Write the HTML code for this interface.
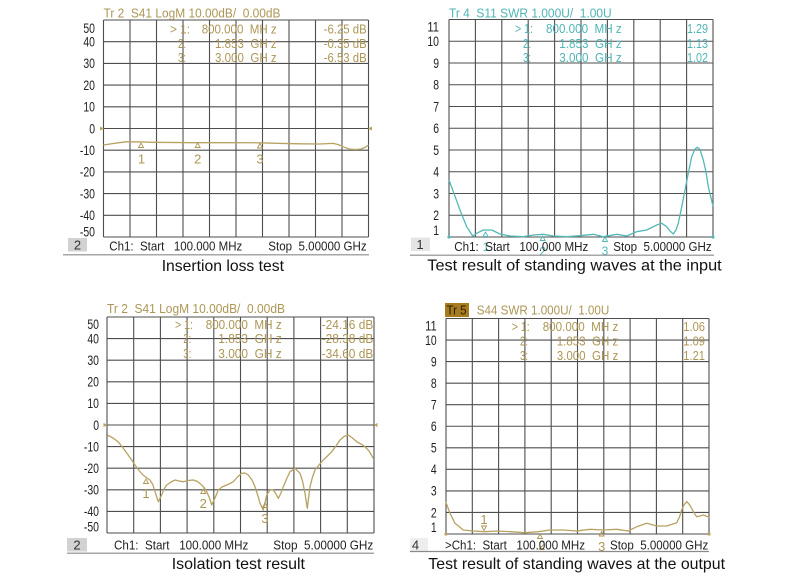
<!DOCTYPE html>
<html>
<head>
<meta charset="utf-8">
<style>
html,body{margin:0;padding:0;background:#fff;}
svg{display:block;}
text{font-family:"Liberation Sans",Arial,sans-serif;white-space:pre;}
</style>
</head>
<body>
<svg width="790" height="579" viewBox="0 0 790 579" xmlns="http://www.w3.org/2000/svg" xml:space="preserve">
<rect width="790" height="579" fill="#fff"/>

<!-- ================= PLOT A (top-left) ================= -->
<g stroke="#4e4e4e" stroke-width="1.1" fill="none">
<path d="M103.5 20V237M130 20V237M156.5 20V237M183 20V237M209.5 20V237M236 20V237M262.5 20V237M289 20V237M315.5 20V237M342 20V237M368.5 20V237"/>
<path d="M103.5 20H368.5M103.5 41.7H368.5M103.5 63.4H368.5M103.5 85.1H368.5M103.5 106.8H368.5M103.5 128.5H368.5M103.5 150.2H368.5M103.5 171.9H368.5M103.5 193.6H368.5M103.5 215.3H368.5M103.5 237H368.5"/>
</g>
<g fill="#222" font-size="13.5" text-anchor="end">
<text x="95" y="33" textLength="11.6" lengthAdjust="spacingAndGlyphs">50</text>
<text x="95" y="46.5" textLength="11.6" lengthAdjust="spacingAndGlyphs">40</text>
<text x="95" y="68.2" textLength="11.6" lengthAdjust="spacingAndGlyphs">30</text>
<text x="95" y="89.9" textLength="11.6" lengthAdjust="spacingAndGlyphs">20</text>
<text x="95" y="111.6" textLength="11.6" lengthAdjust="spacingAndGlyphs">10</text>
<text x="95" y="133.3" textLength="5.8" lengthAdjust="spacingAndGlyphs">0</text>
<text x="95" y="155" textLength="15.1" lengthAdjust="spacingAndGlyphs">-10</text>
<text x="95" y="176.7" textLength="15.1" lengthAdjust="spacingAndGlyphs">-20</text>
<text x="95" y="198.4" textLength="15.1" lengthAdjust="spacingAndGlyphs">-30</text>
<text x="95" y="220.1" textLength="15.1" lengthAdjust="spacingAndGlyphs">-40</text>
<text x="95" y="236.5" textLength="15.1" lengthAdjust="spacingAndGlyphs">-50</text>
</g>
<g fill="#ad9655" font-size="13">
<text x="103.5" y="17.5" textLength="177" lengthAdjust="spacingAndGlyphs">Tr 2  S41 LogM 10.00dB/  0.00dB</text>
<text x="170" y="33.5" textLength="20" lengthAdjust="spacingAndGlyphs">&gt; 1:</text>
<text x="201.7" y="33.5" textLength="75" lengthAdjust="spacingAndGlyphs">800.000  MH z</text>
<text x="366.7" y="33.5" text-anchor="end" textLength="43" lengthAdjust="spacingAndGlyphs">-6.25 dB</text>
<text x="178" y="47.8" textLength="8" lengthAdjust="spacingAndGlyphs">2:</text>
<text x="215" y="47.8" textLength="61.7" lengthAdjust="spacingAndGlyphs">1.853  GH z</text>
<text x="366.7" y="47.8" text-anchor="end" textLength="43" lengthAdjust="spacingAndGlyphs">-0.35 dB</text>
<text x="178" y="62" textLength="8" lengthAdjust="spacingAndGlyphs">3:</text>
<text x="215" y="62" textLength="61.7" lengthAdjust="spacingAndGlyphs">3.000  GH z</text>
<text x="366.7" y="62" text-anchor="end" textLength="43" lengthAdjust="spacingAndGlyphs">-6.53 dB</text>
</g>
<path d="M100 126.5L104 128.5L100 130.5Z M372 126.5L368 128.5L372 130.5Z" fill="#b8a262"/>
<polyline fill="none" stroke="#b8a262" stroke-width="1.3" stroke-linejoin="round" points="103.5,145 110,144 118,142.8 126.7,141.8 136.7,141.8 153,142.3 193,142.7 230,142.7 260,142.8 277,143.3 300,143.8 320,144 333,143.4 338,144.5 343,146.7 350,149.2 356,149.5 361,149 365,147.5 368.5,145"/>
<g fill="none" stroke="#ad9655" stroke-width="0.9">
<path d="M141 143L138.5 147.5H143.5Z M197.7 143L195.2 147.5H200.2Z M260 143.5L257.5 148H262.5Z"/>
</g>
<g fill="#ad9655" font-size="13" text-anchor="middle">
<text x="141.5" y="163.5">1</text>
<text x="197.7" y="163.5">2</text>
<text x="260" y="163.5">3</text>
</g>
<rect x="68" y="238" width="19" height="13.5" fill="#d2d2d2"/>
<text x="77.5" y="249.5" font-size="13" fill="#333" text-anchor="middle">2</text>
<g fill="#222" font-size="13">
<text x="109.3" y="250.5" textLength="133" lengthAdjust="spacingAndGlyphs">Ch1:  Start   100.000 MHz</text>
<text x="268.3" y="250.5" textLength="98.4" lengthAdjust="spacingAndGlyphs">Stop  5.00000 GHz</text>
</g>
<line x1="63" y1="254.8" x2="369" y2="254.8" stroke="#8a8a8a" stroke-width="1.2"/>
<text x="161.7" y="271" font-size="16" fill="#111" textLength="122.3" lengthAdjust="spacingAndGlyphs">Insertion loss test</text>

<!-- ================= PLOT B (top-right) ================= -->
<g stroke="#4e4e4e" stroke-width="1.1" fill="none">
<path d="M449 19.5V237M475.4 19.5V237M501.8 19.5V237M528.2 19.5V237M554.6 19.5V237M581 19.5V237M607.4 19.5V237M633.8 19.5V237M660.2 19.5V237M686.6 19.5V237M713 19.5V237"/>
<path d="M449 19.5H713M449 41.25H713M449 63H713M449 84.75H713M449 106.5H713M449 128.25H713M449 150H713M449 171.75H713M449 193.5H713M449 215.25H713M449 237H713"/>
</g>
<g fill="#222" font-size="13.5" text-anchor="end">
<text x="439" y="31.5" textLength="11.6" lengthAdjust="spacingAndGlyphs">11</text>
<text x="439" y="46" textLength="11.6" lengthAdjust="spacingAndGlyphs">10</text>
<text x="439" y="67.8" textLength="5.8" lengthAdjust="spacingAndGlyphs">9</text>
<text x="439" y="89.5" textLength="5.8" lengthAdjust="spacingAndGlyphs">8</text>
<text x="439" y="111.3" textLength="5.8" lengthAdjust="spacingAndGlyphs">7</text>
<text x="439" y="133" textLength="5.8" lengthAdjust="spacingAndGlyphs">6</text>
<text x="439" y="154.8" textLength="5.8" lengthAdjust="spacingAndGlyphs">5</text>
<text x="439" y="176.5" textLength="5.8" lengthAdjust="spacingAndGlyphs">4</text>
<text x="439" y="198.3" textLength="5.8" lengthAdjust="spacingAndGlyphs">3</text>
<text x="439" y="220" textLength="5.8" lengthAdjust="spacingAndGlyphs">2</text>
<text x="439" y="234.8" textLength="5.8" lengthAdjust="spacingAndGlyphs">1</text>
</g>
<g fill="#4fb5b5" font-size="13">
<text x="449" y="17.5" textLength="162.7" lengthAdjust="spacingAndGlyphs">Tr 4  S11 SWR 1.000U/  1.00U</text>
<text x="515" y="33" textLength="18" lengthAdjust="spacingAndGlyphs">&gt; 1:</text>
<text x="546" y="33" textLength="75.7" lengthAdjust="spacingAndGlyphs">800.000  MH z</text>
<text x="708" y="33" text-anchor="end" textLength="21" lengthAdjust="spacingAndGlyphs">1.29</text>
<text x="523" y="47.8" textLength="8" lengthAdjust="spacingAndGlyphs">2:</text>
<text x="559.3" y="47.8" textLength="62.4" lengthAdjust="spacingAndGlyphs">1.853  GH z</text>
<text x="708" y="47.8" text-anchor="end" textLength="21" lengthAdjust="spacingAndGlyphs">1.13</text>
<text x="523" y="62" textLength="8" lengthAdjust="spacingAndGlyphs">3:</text>
<text x="559.3" y="62" textLength="62.4" lengthAdjust="spacingAndGlyphs">3.000  GH z</text>
<text x="708" y="62" text-anchor="end" textLength="21" lengthAdjust="spacingAndGlyphs">1.02</text>
</g>
<polyline fill="none" stroke="#55b8b8" stroke-width="1.3" stroke-linejoin="round" points="449,180 453.3,191.7 460,210 466.7,226.7 472.7,236 476.7,233.3 483.3,230 491.7,230 500,234 510,236 523.3,236.7 533.3,235 543.3,234.3 553.3,236 566.7,236.7 580,235.7 593.3,234.3 603.3,236.7 616.7,234.3 626.7,236 636.7,231.7 646.7,230 656.7,225 661.7,223.3 666.7,226.7 670,231 673.3,234 676,230 678.3,223.3 681.5,208 685,190 688.5,172 691.7,156.7 695,149 697.3,147.3 700,149.5 703.3,160 706,172 708.3,186.7 713,206"/>
<circle cx="449" cy="237" r="1.6" fill="#55b8b8"/>
<circle cx="713" cy="237" r="1.6" fill="#55b8b8"/>
<g fill="none" stroke="#4fb5b5" stroke-width="0.9">
<path d="M485.5 232L483 236.5H488Z M542.7 236L540.2 240.5H545.2Z M605 237L602.5 241.5H607.5Z"/>
</g>
<g fill="#4fb5b5" font-size="12" text-anchor="middle">
<text x="486" y="251">1</text>
<text x="542.7" y="255.5">2</text>
<text x="605" y="255">3</text>
</g>
<rect x="411" y="237.5" width="19" height="13.5" fill="#e4e4e4"/>
<text x="420" y="249" font-size="13" fill="#333" text-anchor="middle">1</text>
<g fill="#222" font-size="13">
<text x="454.3" y="251" textLength="134" lengthAdjust="spacingAndGlyphs">Ch1:  Start   100.000 MHz</text>
<text x="613.3" y="251" textLength="98.4" lengthAdjust="spacingAndGlyphs">Stop  5.00000 GHz</text>
</g>
<line x1="410" y1="255.2" x2="714" y2="255.2" stroke="#8a8a8a" stroke-width="1.2"/>
<text x="427.3" y="270.5" font-size="16" fill="#111" textLength="294.4" lengthAdjust="spacingAndGlyphs">Test result of standing waves at the input</text>

<!-- ================= PLOT C (bottom-left) ================= -->
<g stroke="#4e4e4e" stroke-width="1.1" fill="none">
<path d="M107 317V533M133.7 317V533M160.4 317V533M187.1 317V533M213.8 317V533M240.5 317V533M267.2 317V533M293.9 317V533M320.6 317V533M347.3 317V533M374 317V533"/>
<path d="M107 317H374M107 338.6H374M107 360.2H374M107 381.8H374M107 403.4H374M107 425H374M107 446.6H374M107 468.2H374M107 489.8H374M107 511.4H374M107 533H374"/>
</g>
<g fill="#222" font-size="13.5" text-anchor="end">
<text x="99" y="328.8" textLength="11.6" lengthAdjust="spacingAndGlyphs">50</text>
<text x="99" y="343.4" textLength="11.6" lengthAdjust="spacingAndGlyphs">40</text>
<text x="99" y="365" textLength="11.6" lengthAdjust="spacingAndGlyphs">30</text>
<text x="99" y="386.6" textLength="11.6" lengthAdjust="spacingAndGlyphs">20</text>
<text x="99" y="408.2" textLength="11.6" lengthAdjust="spacingAndGlyphs">10</text>
<text x="99" y="429.8" textLength="5.8" lengthAdjust="spacingAndGlyphs">0</text>
<text x="99" y="451.4" textLength="15.1" lengthAdjust="spacingAndGlyphs">-10</text>
<text x="99" y="473" textLength="15.1" lengthAdjust="spacingAndGlyphs">-20</text>
<text x="99" y="494.6" textLength="15.1" lengthAdjust="spacingAndGlyphs">-30</text>
<text x="99" y="516.2" textLength="15.1" lengthAdjust="spacingAndGlyphs">-40</text>
<text x="99" y="531.5" textLength="15.1" lengthAdjust="spacingAndGlyphs">-50</text>
</g>
<g fill="#ad9655" font-size="13">
<text x="107" y="313" textLength="178" lengthAdjust="spacingAndGlyphs">Tr 2  S41 LogM 10.00dB/  0.00dB</text>
<text x="175" y="328.8" textLength="18" lengthAdjust="spacingAndGlyphs">&gt; 1:</text>
<text x="205.7" y="328.8" textLength="76" lengthAdjust="spacingAndGlyphs">800.000  MH z</text>
<text x="373.3" y="328.8" text-anchor="end" textLength="51.6" lengthAdjust="spacingAndGlyphs">-24.16 dB</text>
<text x="183.3" y="342.8" textLength="8" lengthAdjust="spacingAndGlyphs">2:</text>
<text x="218.3" y="342.8" textLength="63.4" lengthAdjust="spacingAndGlyphs">1.853  GH z</text>
<text x="373.3" y="342.8" text-anchor="end" textLength="51.6" lengthAdjust="spacingAndGlyphs">-28.38 dB</text>
<text x="183.3" y="357.8" textLength="8" lengthAdjust="spacingAndGlyphs">3:</text>
<text x="218.3" y="357.8" textLength="63.4" lengthAdjust="spacingAndGlyphs">3.000  GH z</text>
<text x="373.3" y="357.8" text-anchor="end" textLength="51.6" lengthAdjust="spacingAndGlyphs">-34.60 dB</text>
</g>
<path d="M103.5 423L107.5 425L103.5 427Z M377.5 423L373.5 425L377.5 427Z" fill="#b8a262"/>
<polyline fill="none" stroke="#b8a262" stroke-width="1.3" stroke-linejoin="round" points="107.3,435 113,438 118,441.7 122,446.5 126.7,453 131,459 135,465 139,470.5 143,475 147,478 150,480 153,485 155,491.7 158.3,501.7 161.7,495 164,489 166.7,485 171,482 175,480 179,481 183.3,481.7 188,480.5 193.3,480 197.5,481.5 201.7,485 204.5,488 206.7,491.7 209.5,498 211.7,505 215,498 218.3,490 222,487 226.7,485 230,483.5 233.3,481.7 237.5,477 241.7,473.3 245,473 248.3,475 252,480 255,486.7 258,496 260,503.3 263.3,510 266.7,495 270,490 273.3,490 276,494 278.3,498.3 281,493 283.3,486.7 287,478 290,471.7 295,468.3 300,473.3 302.5,481 305,493.3 307.3,508.3 310,486.7 312.5,477 315,470 319,465 323.3,460 327.5,456 331.7,451.7 336,446 340,440 344,436.5 348.3,435 352.5,438 356.7,441.7 361,444 365,446.7 369,451 373.3,458.3"/>
<g fill="none" stroke="#ad9655" stroke-width="0.9">
<path d="M146 479L143.5 483.5H148.5Z M203.3 489L200.8 493.5H205.8Z M265 503L262.5 507.5H267.5Z"/>
</g>
<g fill="#ad9655" font-size="13" text-anchor="middle">
<text x="146" y="498">1</text>
<text x="203.3" y="508">2</text>
<text x="265" y="523">3</text>
</g>
<rect x="67" y="538" width="20" height="13.5" fill="#d2d2d2"/>
<text x="77" y="549.5" font-size="13" fill="#333" text-anchor="middle">2</text>
<g fill="#222" font-size="13">
<text x="114" y="549.5" textLength="134.3" lengthAdjust="spacingAndGlyphs">Ch1:  Start   100.000 MHz</text>
<text x="273.3" y="549.5" textLength="100" lengthAdjust="spacingAndGlyphs">Stop  5.00000 GHz</text>
</g>
<line x1="67" y1="553.2" x2="374" y2="553.2" stroke="#8a8a8a" stroke-width="1.2"/>
<text x="171.7" y="569" font-size="16" fill="#111" textLength="133.3" lengthAdjust="spacingAndGlyphs">Isolation test result</text>

<!-- ================= PLOT D (bottom-right) ================= -->
<g stroke="#4e4e4e" stroke-width="1.1" fill="none">
<path d="M446 318.5V534M472.3 318.5V534M498.6 318.5V534M524.9 318.5V534M551.2 318.5V534M577.5 318.5V534M603.8 318.5V534M630.1 318.5V534M656.4 318.5V534M682.7 318.5V534M709 318.5V534"/>
<path d="M446 318.5H709M446 340.05H709M446 361.6H709M446 383.15H709M446 404.7H709M446 426.25H709M446 447.8H709M446 469.35H709M446 490.9H709M446 512.45H709M446 534H709"/>
</g>
<g fill="#222" font-size="13.5" text-anchor="end">
<text x="436.7" y="330.5" textLength="11.6" lengthAdjust="spacingAndGlyphs">11</text>
<text x="436.7" y="344.9" textLength="11.6" lengthAdjust="spacingAndGlyphs">10</text>
<text x="436.7" y="366.4" textLength="5.8" lengthAdjust="spacingAndGlyphs">9</text>
<text x="436.7" y="388" textLength="5.8" lengthAdjust="spacingAndGlyphs">8</text>
<text x="436.7" y="409.5" textLength="5.8" lengthAdjust="spacingAndGlyphs">7</text>
<text x="436.7" y="431" textLength="5.8" lengthAdjust="spacingAndGlyphs">6</text>
<text x="436.7" y="452.6" textLength="5.8" lengthAdjust="spacingAndGlyphs">5</text>
<text x="436.7" y="474.2" textLength="5.8" lengthAdjust="spacingAndGlyphs">4</text>
<text x="436.7" y="495.7" textLength="5.8" lengthAdjust="spacingAndGlyphs">3</text>
<text x="436.7" y="517.3" textLength="5.8" lengthAdjust="spacingAndGlyphs">2</text>
<text x="436.7" y="532.1" textLength="5.8" lengthAdjust="spacingAndGlyphs">1</text>
</g>
<rect x="445" y="303" width="24" height="14" fill="#a67c1e"/>
<text x="446.5" y="314.5" font-size="13" fill="#2a2000" textLength="20" lengthAdjust="spacingAndGlyphs">Tr 5</text>
<g fill="#ad9655" font-size="13">
<text x="476.7" y="314.5" textLength="132.6" lengthAdjust="spacingAndGlyphs">S44 SWR 1.000U/  1.00U</text>
<text x="511.7" y="331.2" textLength="18" lengthAdjust="spacingAndGlyphs">&gt; 1:</text>
<text x="542.7" y="331.2" textLength="75.6" lengthAdjust="spacingAndGlyphs">800.000  MH z</text>
<text x="705" y="331.2" text-anchor="end" textLength="21.7" lengthAdjust="spacingAndGlyphs">1.06</text>
<text x="520" y="345.5" textLength="8" lengthAdjust="spacingAndGlyphs">2:</text>
<text x="556.7" y="345.5" textLength="61.6" lengthAdjust="spacingAndGlyphs">1.853  GH z</text>
<text x="705" y="345.5" text-anchor="end" textLength="21.7" lengthAdjust="spacingAndGlyphs">1.09</text>
<text x="520" y="360.2" textLength="8" lengthAdjust="spacingAndGlyphs">3:</text>
<text x="556.7" y="360.2" textLength="61.6" lengthAdjust="spacingAndGlyphs">3.000  GH z</text>
<text x="705" y="360.2" text-anchor="end" textLength="21.7" lengthAdjust="spacingAndGlyphs">1.21</text>
</g>
<polyline fill="none" stroke="#b8a262" stroke-width="1.3" stroke-linejoin="round" points="445.7,501.7 450,513.3 455,523.3 463.3,530 473.3,531 485,531.7 496.7,531 510,531.7 525,532.7 538.3,531.7 550,530 563.3,530 576.7,531 590,529.3 603.3,530 616.7,529.3 628.3,531 636.7,526.7 646.7,523.3 656.7,526 666.7,526 676.7,522.7 679.5,517 681.7,510 684,505 686.7,501.7 689,504 691.7,508.3 694,513 696.7,516.7 700,516 703.3,515 706,516 709.3,517.3"/>
<circle cx="446" cy="534" r="1.6" fill="#b8a262"/>
<circle cx="709" cy="534" r="1.6" fill="#b8a262"/>
<g fill="none" stroke="#ad9655" stroke-width="0.9">
<path d="M484 530.5L481.5 526H486.5Z M540 534L537.5 538.5H542.5Z M601.7 531.5L599.2 536H604.2Z"/>
</g>
<g fill="#ad9655" font-size="13" text-anchor="middle">
<text x="484" y="524">1</text>
<text x="541.7" y="550">2</text>
<text x="601.7" y="551">3</text>
</g>
<rect x="410" y="538" width="18" height="13" fill="#eeeeee"/>
<text x="415.5" y="549.5" font-size="13" fill="#333" text-anchor="middle">4</text>
<g fill="#222" font-size="13">
<text x="445" y="549.5" textLength="140" lengthAdjust="spacingAndGlyphs">&gt;Ch1:  Start   100.000 MHz</text>
<text x="610" y="549.5" textLength="98.3" lengthAdjust="spacingAndGlyphs">Stop  5.00000 GHz</text>
</g>
<line x1="410" y1="551.5" x2="709" y2="551.5" stroke="#8a8a8a" stroke-width="1.2"/>
<text x="428.3" y="569" font-size="16" fill="#111" textLength="296.7" lengthAdjust="spacingAndGlyphs">Test result of standing waves at the output</text>
</svg>
</body>
</html>
